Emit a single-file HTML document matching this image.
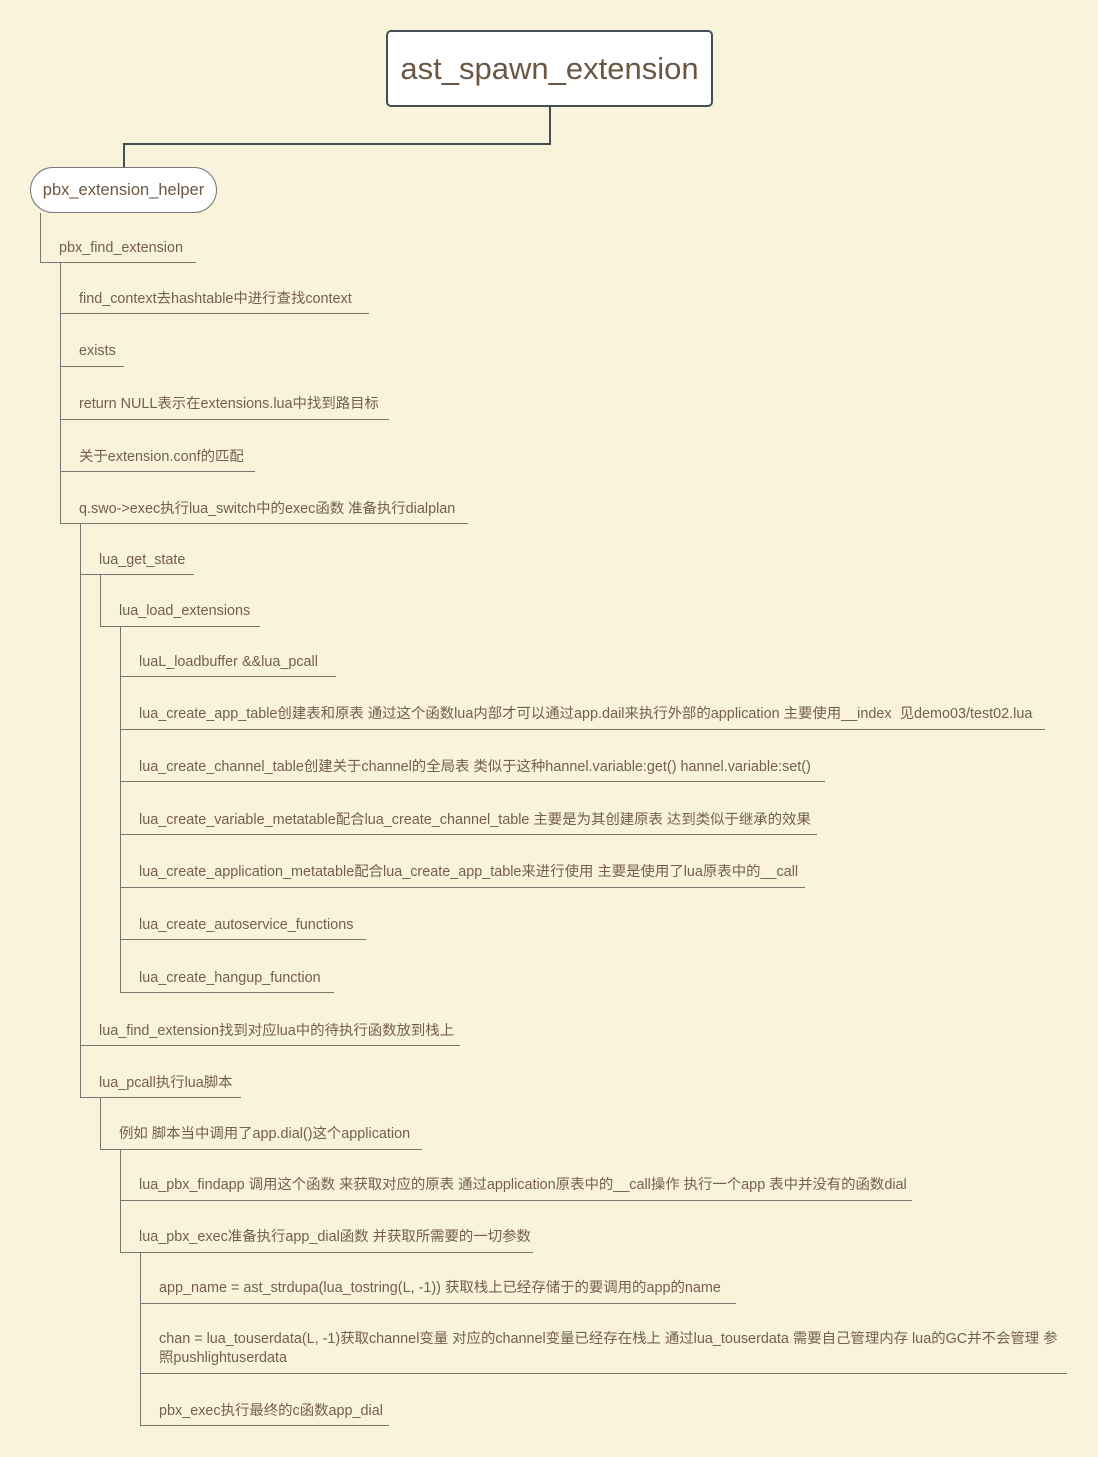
<!DOCTYPE html>
<html><head><meta charset="utf-8"><style>
body{margin:0;width:1098px;height:1457px;background:#faf3dc;position:relative;overflow:hidden;font-family:"Liberation Sans","Noto Sans CJK SC",sans-serif;}
.h{position:absolute;height:1px;background:#77766f;}
.v{position:absolute;width:1px;background:#77766f;}
.t{position:absolute;font-size:14.4px;color:#765f4a;white-space:nowrap;line-height:19px;}
.c{position:absolute;background:#444f55;}
</style></head><body>
<div style="position:absolute;left:386px;top:30px;width:323px;height:73px;border:2px solid #444f55;border-radius:5px;background:#fff;color:#6b5744;font-size:31px;line-height:73px;text-align:center;">ast_spawn_extension</div>
<div class="c" style="left:549px;top:106px;width:2px;height:39px"></div>
<div class="c" style="left:123px;top:143px;width:428px;height:2px"></div>
<div class="c" style="left:123px;top:143px;width:2px;height:25px"></div>
<div style="position:absolute;left:30px;top:167px;width:185px;height:44px;border:1px solid #777;border-radius:23px;background:#fff;color:#6b5744;font-size:16.5px;line-height:44px;text-align:center;">pbx_extension_helper</div>

<div class="v" style="left:40px;top:213px;height:50px"></div>
<div class="v" style="left:60px;top:263px;height:260px"></div>
<div class="v" style="left:80px;top:523px;height:575px"></div>
<div class="v" style="left:100px;top:574px;height:52px"></div>
<div class="v" style="left:120px;top:626px;height:366px"></div>
<div class="v" style="left:100px;top:1097px;height:52px"></div>
<div class="v" style="left:120px;top:1149px;height:103px"></div>
<div class="v" style="left:140px;top:1252px;height:173px"></div>

<div class="h" style="left:40px;top:262px;width:156px"></div><div class="t" style="left:59px;top:239px">pbx_find_extension</div>
<div class="h" style="left:60px;top:313px;width:309px"></div><div class="t" style="left:79px;top:290px">find_context去hashtable中进行查找context</div>
<div class="h" style="left:60px;top:366px;width:64px"></div><div class="t" style="left:79px;top:342px">exists</div>
<div class="h" style="left:60px;top:419px;width:329px"></div><div class="t" style="left:79px;top:395px">return NULL表示在extensions.lua中找到路目标</div>
<div class="h" style="left:60px;top:471px;width:195px"></div><div class="t" style="left:79px;top:448px">关于extension.conf的匹配</div>
<div class="h" style="left:60px;top:523px;width:408px"></div><div class="t" style="left:79px;top:500px">q.swo-&gt;exec执行lua_switch中的exec函数 准备执行dialplan</div>
<div class="h" style="left:80px;top:574px;width:114px"></div><div class="t" style="left:99px;top:551px">lua_get_state</div>
<div class="h" style="left:100px;top:626px;width:160px"></div><div class="t" style="left:119px;top:602px">lua_load_extensions</div>
<div class="h" style="left:120px;top:676px;width:216px"></div><div class="t" style="left:139px;top:653px">luaL_loadbuffer &amp;&amp;lua_pcall</div>
<div class="h" style="left:120px;top:729px;width:925px"></div><div class="t" style="left:139px;top:705px">lua_create_app_table创建表和原表 通过这个函数lua内部才可以通过app.dail来执行外部的application 主要使用__index&nbsp; 见demo03/test02.lua</div>
<div class="h" style="left:120px;top:781px;width:705px"></div><div class="t" style="left:139px;top:758px">lua_create_channel_table创建关于channel的全局表 类似于这种hannel.variable:get() hannel.variable:set()</div>
<div class="h" style="left:120px;top:834px;width:697px"></div><div class="t" style="left:139px;top:811px">lua_create_variable_metatable配合lua_create_channel_table 主要是为其创建原表 达到类似于继承的效果</div>
<div class="h" style="left:120px;top:887px;width:685px"></div><div class="t" style="left:139px;top:863px">lua_create_application_metatable配合lua_create_app_table来进行使用 主要是使用了lua原表中的__call</div>
<div class="h" style="left:120px;top:939px;width:246px"></div><div class="t" style="left:139px;top:916px">lua_create_autoservice_functions</div>
<div class="h" style="left:120px;top:992px;width:214px"></div><div class="t" style="left:139px;top:969px">lua_create_hangup_function</div>
<div class="h" style="left:80px;top:1045px;width:380px"></div><div class="t" style="left:99px;top:1022px">lua_find_extension找到对应lua中的待执行函数放到栈上</div>
<div class="h" style="left:80px;top:1097px;width:161px"></div><div class="t" style="left:99px;top:1074px">lua_pcall执行lua脚本</div>
<div class="h" style="left:100px;top:1149px;width:322px"></div><div class="t" style="left:119px;top:1125px">例如 脚本当中调用了app.dial()这个application</div>
<div class="h" style="left:120px;top:1200px;width:792px"></div><div class="t" style="left:139px;top:1176px">lua_pbx_findapp 调用这个函数 来获取对应的原表 通过application原表中的__call操作 执行一个app 表中并没有的函数dial</div>
<div class="h" style="left:120px;top:1252px;width:413px"></div><div class="t" style="left:139px;top:1228px">lua_pbx_exec准备执行app_dial函数 并获取所需要的一切参数</div>
<div class="h" style="left:140px;top:1303px;width:596px"></div><div class="t" style="left:159px;top:1279px">app_name = ast_strdupa(lua_tostring(L, -1)) 获取栈上已经存储于的要调用的app的name</div>
<div class="h" style="left:140px;top:1373px;width:927px"></div><div class="t" style="left:159px;top:1330px">chan = lua_touserdata(L, -1)获取channel变量 对应的channel变量已经存在栈上 通过lua_touserdata 需要自己管理内存 lua的GC并不会管理 参<br>照pushlightuserdata</div>
<div class="h" style="left:140px;top:1425px;width:249px"></div><div class="t" style="left:159px;top:1402px">pbx_exec执行最终的c函数app_dial</div>
</body></html>
